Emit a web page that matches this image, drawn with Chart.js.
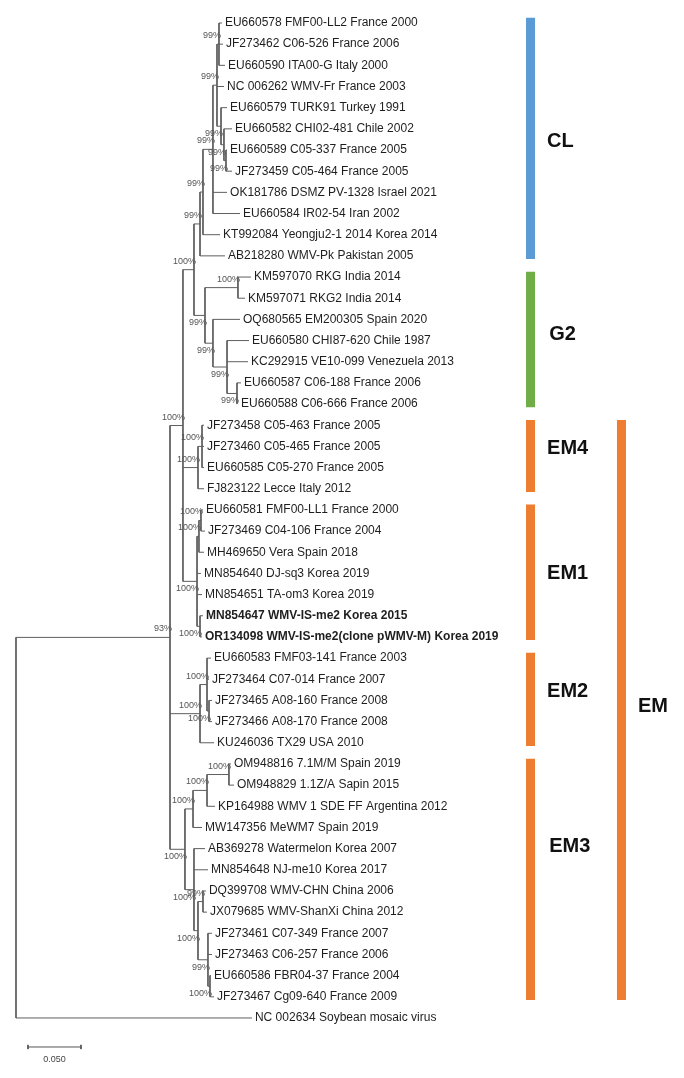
<!DOCTYPE html>
<html>
<head>
<meta charset="utf-8">
<script src="https://cdn.jsdelivr.net/npm/chart.js@4.4.0/dist/chart.umd.min.js"></script>
<style>
  html, body { margin: 0; padding: 0; background: #fff; }
  #wrap { width: 684px; height: 1078px; }
</style>
</head>
<body>
<div id="wrap"><canvas id="treeChart"></canvas></div>
<script>
// taxa, top to bottom
const leafNames = [
  'EU660578 FMF00-LL2 France 2000', 'JF273462 C06-526 France 2006', 'EU660590 ITA00-G Italy 2000',
  'NC 006262 WMV-Fr France 2003', 'EU660579 TURK91 Turkey 1991', 'EU660582 CHI02-481 Chile 2002',
  'EU660589 C05-337 France 2005', 'JF273459 C05-464 France 2005', 'OK181786 DSMZ PV-1328 Israel 2021',
  'EU660584 IR02-54 Iran 2002', 'KT992084 Yeongju2-1 2014 Korea 2014', 'AB218280 WMV-Pk Pakistan 2005',
  'KM597070 RKG India 2014', 'KM597071 RKG2 India 2014', 'OQ680565 EM200305 Spain 2020',
  'EU660580 CHI87-620 Chile 1987', 'KC292915 VE10-099 Venezuela 2013', 'EU660587 C06-188 France 2006',
  'EU660588 C06-666 France 2006', 'JF273458 C05-463 France 2005', 'JF273460 C05-465 France 2005',
  'EU660585 C05-270 France 2005', 'FJ823122 Lecce Italy 2012', 'EU660581 FMF00-LL1 France 2000',
  'JF273469 C04-106 France 2004', 'MH469650 Vera Spain 2018', 'MN854640 DJ-sq3 Korea 2019',
  'MN854651 TA-om3 Korea 2019', 'MN854647 WMV-IS-me2 Korea 2015', 'OR134098 WMV-IS-me2(clone pWMV-M) Korea 2019',
  'EU660583 FMF03-141 France 2003', 'JF273464 C07-014 France 2007', 'JF273465 A08-160 France 2008',
  'JF273466 A08-170 France 2008', 'KU246036 TX29 USA 2010', 'OM948816 7.1M/M Spain 2019',
  'OM948829 1.1Z/A Sapin 2015', 'KP164988 WMV 1 SDE FF Argentina 2012', 'MW147356 MeWM7 Spain 2019',
  'AB369278 Watermelon Korea 2007', 'MN854648 NJ-me10 Korea 2017', 'DQ399708 WMV-CHN China 2006',
  'JX079685 WMV-ShanXi China 2012', 'JF273461 C07-349 France 2007', 'JF273463 C06-257 France 2006',
  'EU660586 FBR04-37 France 2004', 'JF273467 Cg09-640 France 2009', 'NC 002634 Soybean mosaic virus'
];
const boldLeaves = [28, 29];

// distance of each tip from the root (substitutions/site)
const leafDepth = [
  0.1943, 0.1953, 0.1972, 0.1962, 0.1991, 0.2038, 0.1991, 0.2038, 0.1991, 0.2113, 0.1925, 0.1972,
  0.2217, 0.2160, 0.2113, 0.2198, 0.2189, 0.2123, 0.2094,
  0.1774, 0.1774, 0.1774, 0.1774,
  0.1764, 0.1783, 0.1774, 0.1745, 0.1755, 0.1764, 0.1755,
  0.1840, 0.1821, 0.1849, 0.1849, 0.1868,
  0.2028, 0.2057, 0.1877, 0.1755, 0.1783, 0.1811, 0.1792, 0.1802, 0.1849, 0.1849, 0.1840, 0.1868,
  0.2226
];

// internal nodes: numbers in nodeKids are tips, strings are other nodes
const nodeIds = ['root', 'ingroup', 'a', 'CLG2', 'CL', 'CL1', 'CL2', 'CL3', 'CL4', 'CL5', 'CL6', 'CL7',
  'G2', 'KM', 'G2b', 'G2c', 'G2d', 'EM4', 'EM4a', 'EM1', 'EM1e', 'EM1d', 'EM1b', 'EM2', 'EM2a', 'EM2b',
  'EM3', 'EM3a', 'KPn', 'OMn', 'EM3b', 'R', 'DQn', 'Q', 'Q2'];
const nodeDepth = [0, 0.1453, 0.1575, 0.1679, 0.1736, 0.1764, 0.1858, 0.1896, 0.1915, 0.1934, 0.1962, 0.1981,
  0.1783, 0.2094, 0.1858, 0.1991, 0.2085, 0.1717, 0.1755, 0.1708, 0.1726, 0.1745, 0.1736, 0.1736, 0.1802, 0.1821,
  0.1594, 0.1670, 0.1802, 0.2009, 0.1679, 0.1717, 0.1764, 0.1811, 0.1830];
const nodeKids = [
  ['ingroup', 47], ['a', 'EM2', 'EM3'], ['CLG2', 'EM4', 'EM1'], ['CL', 'G2'], ['CL1', 11], ['CL2', 10],
  ['CL3', 8, 9], ['CL4', 3, 'CL5'], [0, 1, 2], [4, 'CL6'], [5, 'CL7'], [6, 7],
  ['KM', 'G2b'], [12, 13], [14, 'G2c'], [15, 16, 'G2d'], [17, 18],
  ['EM4a', 22], [19, 20, 21], ['EM1e', 26, 27, 'EM1b'], ['EM1d', 25], [23, 24], [28, 29],
  ['EM2a', 34], [30, 31, 'EM2b'], [32, 33],
  ['EM3a', 'EM3b'], ['KPn', 38], ['OMn', 37], [35, 36], [39, 40, 'R'], ['DQn', 'Q'], [41, 42], [43, 44, 'Q2'], [45, 46]
];
const nodeSupport = ['', '93%', '100%', '100%', '99%', '99%', '99%', '99%', '99%', '99%', '99%', '99%',
  '99%', '100%', '99%', '99%', '99%', '100%', '100%', '100%', '100%', '100%', '100%', '100%', '100%', '100%',
  '100%', '100%', '100%', '100%', '100%', '100%', '99%', '99%', '100%'];

// clade groups (first and last tip)
const cladeNames = ['CL', 'G2', 'EM4', 'EM1', 'EM2', 'EM3', 'EM'];
const cladeFirst = [0, 12, 19, 23, 30, 35, 19];
const cladeLast = [11, 18, 22, 29, 34, 46, 46];

const scaleBarLength = 0.05;
const scaleBarText = '0.050';

// layout / style
const cladeColors = ['#5b9bd5', '#70ad47', '#ed7d31', '#ed7d31', '#ed7d31', '#ed7d31', '#ed7d31'];
const cladeBarX = [0.4854, 0.4854, 0.4854, 0.4854, 0.4854, 0.4854, 0.5712];
const cladeTextX = [0.5010, 0.5030, 0.5010, 0.5010, 0.5010, 0.5030, 0.5868];
const cladeTextRow = [5.6, 14.7, 20.1, 26.0, 31.6, 38.9, 32.3];
const scaleBarX = 0.0113;
const scaleBarRow = 48.37;
const lineColor = '#5f5f5f';

const nodeIndex = {};
nodeIds.forEach((id, i) => { nodeIndex[id] = i; });
const parentOf = {};
nodeKids.forEach((kids, i) => kids.forEach(k => { if (typeof k === 'string') parentOf[k] = i; }));

function rowOf(k) {
  if (typeof k === 'number') return k;
  const kids = nodeKids[nodeIndex[k]];
  return (rowOf(kids[0]) + rowOf(kids[kids.length - 1])) / 2;
}
function depthOf(k) {
  return typeof k === 'number' ? leafDepth[k] : nodeDepth[nodeIndex[k]];
}

// branch segments, separated by gaps
const branches = [];
nodeIds.forEach((id, i) => {
  const kids = nodeKids[i];
  const d = nodeDepth[i];
  branches.push({ x: d, y: rowOf(kids[0]) }, { x: d, y: rowOf(kids[kids.length - 1]) }, { x: d, y: null });
  kids.forEach(k => {
    const r = rowOf(k);
    branches.push({ x: d, y: r }, { x: depthOf(k), y: r }, { x: d, y: null });
  });
});

const datasets = [{
  data: branches, showLine: true, borderColor: lineColor, borderWidth: 1,
  pointRadius: 0, spanGaps: false
}];

cladeNames.forEach((name, i) => {
  datasets.push({
    data: [{ x: cladeBarX[i], y: cladeFirst[i] - 0.25 }, { x: cladeBarX[i], y: cladeLast[i] + 0.15 }],
    showLine: true, borderColor: cladeColors[i], borderWidth: 9, borderCapStyle: 'butt', pointRadius: 0
  });
});

datasets.push({
  data: [
    { x: scaleBarX, y: scaleBarRow - 0.1 }, { x: scaleBarX, y: scaleBarRow + 0.1 }, { x: scaleBarX, y: null },
    { x: scaleBarX, y: scaleBarRow }, { x: scaleBarX + scaleBarLength, y: scaleBarRow }, { x: scaleBarX, y: null },
    { x: scaleBarX + scaleBarLength, y: scaleBarRow - 0.1 }, { x: scaleBarX + scaleBarLength, y: scaleBarRow + 0.1 }
  ],
  showLine: true, borderColor: '#555', borderWidth: 1, pointRadius: 0, spanGaps: false
});

const treeText = {
  id: 'treeText',
  afterDatasetsDraw(chart) {
    const { ctx, scales: { x, y } } = chart;
    ctx.save();
    ctx.textAlign = 'left';
    ctx.textBaseline = 'middle';
    ctx.fillStyle = '#1e1e1e';
    leafNames.forEach((name, i) => {
      ctx.font = (boldLeaves.includes(i) ? 'bold ' : '') + '12px "Liberation Sans", Arial, sans-serif';
      ctx.fillText(name, x.getPixelForValue(leafDepth[i]) + 3, y.getPixelForValue(i));
    });

    // bootstrap values: above the branch, below for the last child
    ctx.font = '9px "Liberation Sans", Arial, sans-serif';
    ctx.fillStyle = '#555';
    ctx.textAlign = 'right';
    nodeIds.forEach((id, i) => {
      if (!nodeSupport[i]) return;
      const px = x.getPixelForValue(nodeDepth[i]) + 2;
      const py = y.getPixelForValue(rowOf(id));
      const sib = nodeKids[parentOf[id]];
      const isLast = sib && sib[sib.length - 1] === id;
      ctx.textBaseline = isLast ? 'top' : 'bottom';
      ctx.fillText(nodeSupport[i], px, isLast ? py + 3 : py - 4);
    });

    ctx.font = 'bold 20px "Liberation Sans", Arial, sans-serif';
    ctx.fillStyle = '#111';
    ctx.textAlign = 'left';
    ctx.textBaseline = 'middle';
    cladeNames.forEach((name, i) => {
      ctx.fillText(name, x.getPixelForValue(cladeTextX[i]), y.getPixelForValue(cladeTextRow[i]));
    });

    ctx.font = '9px "Liberation Sans", Arial, sans-serif';
    ctx.fillStyle = '#444';
    ctx.textAlign = 'center';
    ctx.fillText(scaleBarText, x.getPixelForValue(scaleBarX + scaleBarLength / 2), y.getPixelForValue(scaleBarRow + 0.6));
    ctx.restore();
  }
};

new Chart(document.getElementById('treeChart'), {
  type: 'scatter',
  data: { datasets },
  options: {
    responsive: true,
    maintainAspectRatio: false,
    animation: false,
    layout: { padding: 0 },
    plugins: { legend: { display: false }, tooltip: { enabled: false } },
    scales: {
      x: { type: 'linear', display: false, min: -0.01509, max: 0.63019 },
      y: { type: 'linear', display: false, reverse: true, min: -1.0865, max: 49.835 }
    }
  },
  plugins: [treeText]
});
</script>
</body>
</html>
